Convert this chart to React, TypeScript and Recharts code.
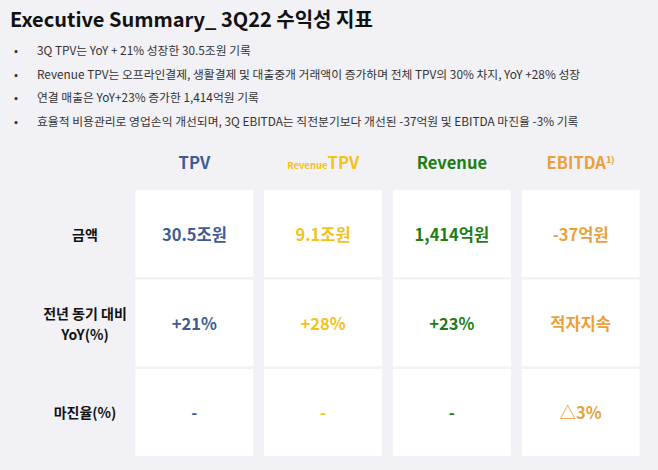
import React from 'react';
import { ScatterChart, Scatter, XAxis, YAxis } from 'recharts';

const title = 'Executive Summary_ 3Q22 수익성 지표';
const bullets = [
  '3Q TPV는  YoY + 21% 성장한 30.5조원 기록',
  'Revenue TPV는 오프라인결제, 생활결제 및 대출중개 거래액이 증가하며 전체 TPV의 30% 차지, YoY +28% 성장',
  '연결 매출은 YoY+23% 증가한 1,414억원 기록',
  '효율적 비용관리로 영업손익 개선되며, 3Q EBITDA는 직전분기보다 개선된 -37억원 및 EBITDA 마진율 -3% 기록',
];
const metrics = ['TPV', 'Revenue TPV', 'Revenue', 'EBITDA'];
const rows = ['금액', '전년 동기 대비\nYoY(%)', '마진율(%)'];
const amountValues = ['30.5조원', '9.1조원', '1,414억원', '-37억원'];
const yoyValues = ['+21%', '+28%', '+23%', '적자지속'];
const marginValues = ['-', '-', '-', '△3%'];
const metricColors = ['#3f5b96', '#f3c21c', '#1f7d14', '#eba03a'];

const FONT = '"Noto Sans CJK KR", "Noto Sans", sans-serif';
const CELL_W = 118;
const CELL_H = 87;

const valueRows = [amountValues, yoyValues, marginValues];
const cells = valueRows.flatMap((vals, r) =>
  vals.map((v, c) => ({ metric: metrics[c], row: rows[r], value: v, color: metricColors[c] }))
);

const CellShape = (props: any) => {
  const { cx, cy, payload } = props;
  if (cx == null || cy == null) return null;
  return (
    <g>
      <rect x={cx - CELL_W / 2} y={cy - CELL_H / 2} width={CELL_W} height={CELL_H} fill="#ffffff" />
      <text x={cx} y={cy} textAnchor="middle" dominantBaseline="central" fill={payload.color}
        fontFamily={FONT} fontWeight={700} fontSize={16.5}>{payload.value}</text>
    </g>
  );
};

const HeaderTick = (props: any) => {
  const { x, y, payload } = props;
  const i = metrics.indexOf(payload.value);
  const color = metricColors[i];
  const ty = y - 12;
  if (payload.value === 'Revenue TPV') {
    return (
      <text x={x} y={ty} textAnchor="middle" fill={color} fontFamily={FONT} fontWeight={700}>
        <tspan fontSize={9.5}>Revenue</tspan>
        <tspan fontSize={16.5}>TPV</tspan>
      </text>
    );
  }
  if (payload.value === 'EBITDA') {
    return (
      <text x={x} y={ty} textAnchor="middle" fill={color} fontFamily={FONT} fontWeight={700}>
        <tspan fontSize={16.5}>EBITDA</tspan>
        <tspan fontSize={9} dy={-6}>1)</tspan>
      </text>
    );
  }
  return (
    <text x={x} y={ty} textAnchor="middle" fill={color} fontFamily={FONT} fontWeight={700} fontSize={16.5}>
      {payload.value}
    </text>
  );
};

const RowTick = (props: any) => {
  const { y, payload } = props;
  const lines = String(payload.value).split('\n');
  const lh = 21;
  const start = y - ((lines.length - 1) * lh) / 2;
  return (
    <text textAnchor="middle" fill="#111111" fontFamily={FONT} fontWeight={700} fontSize={14}>
      {lines.map((l, k) => (
        <tspan key={k} x={85} y={start + k * lh} dominantBaseline="central">{l}</tspan>
      ))}
    </text>
  );
};

export default function App() {
  return (
    <div style={{ position: 'absolute', left: 0, top: 0, width: 658, height: 470, background: '#f1f1f6', overflow: 'hidden' }}>
      <div style={{ position: 'absolute', left: 10, top: 4, fontFamily: FONT, fontWeight: 700, fontSize: 20, color: '#111', whiteSpace: 'nowrap' }}>
        {title}
      </div>
      {bullets.map((b, i) => (
        <div key={i} style={{ position: 'absolute', left: 14, top: 42 + i * 23.7, fontFamily: FONT, fontSize: 11.8, color: '#333', whiteSpace: 'nowrap', lineHeight: '16px' }}>
          <span style={{ display: 'inline-block', width: 23 }}>•</span>{b}
        </div>
      ))}
      <div style={{ position: 'absolute', left: 0, top: 0 }}>
        <ScatterChart width={658} height={470} margin={{ top: 188, right: 13, bottom: 13, left: 10 }}>
          <XAxis type="category" dataKey="metric" orientation="top" allowDuplicatedCategory={false}
            axisLine={false} tickLine={false} tick={<HeaderTick />} interval={0} height={1} />
          <YAxis type="category" dataKey="row" allowDuplicatedCategory={false} reversed
            axisLine={false} tickLine={false} tick={<RowTick />} interval={0} width={120} />
          <Scatter data={cells} shape={<CellShape />} isAnimationActive={false} />
        </ScatterChart>
      </div>
    </div>
  );
}
